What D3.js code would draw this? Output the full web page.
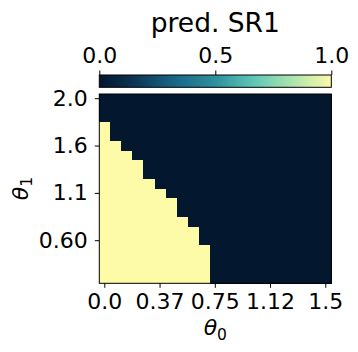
<!DOCTYPE html>
<html><head><meta charset="utf-8">
<script src="https://cdn.jsdelivr.net/npm/d3@7"></script>
<style>html,body{margin:0;padding:0;background:#fff;}svg{display:block;font-family:"DejaVu Sans",sans-serif;}</style>
</head><body>
<script>
// ---- data ----
const title = "pred. SR1";
const theta0 = d3.range(21).map(i => +(i * 0.075).toFixed(3)); // 0 .. 1.5
const theta1Rows = d3.range(20); // row index, top (2.0) to bottom
const xTickIdx = [0, 5, 10, 15, 20];
const xTickLabels = ["0.0", "0.37", "0.75", "1.12", "1.5"];
const yTickIdx = [0, 5, 10, 15];
const yTickLabels = ["2.0", "1.6", "1.1", "0.60"];
const cbTicks = [0, 0.5, 1];
const cbTickLabels = ["0.0", "0.5", "1.0"];
// prediction grid (rows top -> bottom, columns theta0 left -> right)
const pred = [
  [0,0,0,0,0,0,0,0,0,0,0,0,0,0,0,0,0,0,0,0,0],
  [0,0,0,0,0,0,0,0,0,0,0,0,0,0,0,0,0,0,0,0,0],
  [0,0,0,0,0,0,0,0,0,0,0,0,0,0,0,0,0,0,0,0,0],
  [1,0,0,0,0,0,0,0,0,0,0,0,0,0,0,0,0,0,0,0,0],
  [1,0,0,0,0,0,0,0,0,0,0,0,0,0,0,0,0,0,0,0,0],
  [1,1,0,0,0,0,0,0,0,0,0,0,0,0,0,0,0,0,0,0,0],
  [1,1,1,0,0,0,0,0,0,0,0,0,0,0,0,0,0,0,0,0,0],
  [1,1,1,1,0,0,0,0,0,0,0,0,0,0,0,0,0,0,0,0,0],
  [1,1,1,1,0,0,0,0,0,0,0,0,0,0,0,0,0,0,0,0,0],
  [1,1,1,1,1,0,0,0,0,0,0,0,0,0,0,0,0,0,0,0,0],
  [1,1,1,1,1,1,0,0,0,0,0,0,0,0,0,0,0,0,0,0,0],
  [1,1,1,1,1,1,1,0,0,0,0,0,0,0,0,0,0,0,0,0,0],
  [1,1,1,1,1,1,1,0,0,0,0,0,0,0,0,0,0,0,0,0,0],
  [1,1,1,1,1,1,1,1,0,0,0,0,0,0,0,0,0,0,0,0,0],
  [1,1,1,1,1,1,1,1,1,0,0,0,0,0,0,0,0,0,0,0,0],
  [1,1,1,1,1,1,1,1,1,0,0,0,0,0,0,0,0,0,0,0,0],
  [1,1,1,1,1,1,1,1,1,1,0,0,0,0,0,0,0,0,0,0,0],
  [1,1,1,1,1,1,1,1,1,1,0,0,0,0,0,0,0,0,0,0,0],
  [1,1,1,1,1,1,1,1,1,1,0,0,0,0,0,0,0,0,0,0,0],
  [1,1,1,1,1,1,1,1,1,1,0,0,0,0,0,0,0,0,0,0,0]
];
const cmapStops = [0, 0.15, 0.33, 0.5, 0.67, 0.85, 1];
const cmapColors = ["#03172f", "#0c3553", "#1a6789", "#2e909d", "#5fc9b8", "#b5e6ad", "#fdfaa8"];

// ---- drawing ----
const W = 358, H = 352;
const L = 99.3, R = 331.3, T = 94, B = 283.3;
const cbT = 75, cbB = 87.3;
const svg = d3.select("body").append("svg").attr("width", W).attr("height", H);
const color = d3.scaleLinear().domain(cmapStops).range(cmapColors).interpolate(d3.interpolateRgb);

const x = d3.scaleBand().domain(d3.range(theta0.length)).range([L, R]).padding(0);
const y = d3.scaleBand().domain(theta1Rows).range([T, B]).padding(0);

const cells = [];
pred.forEach((row, r) => row.forEach((v, c) => cells.push({r, c, v})));
svg.append("g").selectAll("rect").data(cells).join("rect")
  .attr("x", d => x(d.c)).attr("y", d => y(d.r))
  .attr("width", x.bandwidth() + 0.3).attr("height", y.bandwidth() + 0.3)
  .attr("fill", d => color(d.v)).attr("shape-rendering", "crispEdges");

svg.append("rect").attr("x", L).attr("y", T).attr("width", R - L).attr("height", B - T)
  .attr("fill", "none").attr("stroke", "#000").attr("stroke-width", 1);

const fs = 22;
// x axis
const xAxis = d3.axisBottom(x).tickValues(xTickIdx).tickFormat((d, i) => xTickLabels[i]).tickSize(4.5).tickPadding(5.5);
const gx = svg.append("g").attr("transform", `translate(0,${B})`).call(xAxis);
// y axis
const yAxis = d3.axisLeft(y).tickValues(yTickIdx).tickFormat((d, i) => yTickLabels[i]).tickSize(4.5).tickPadding(7);
const gy = svg.append("g").attr("transform", `translate(${L},0)`).call(yAxis);
[gx, gy].forEach(g => {
  g.select(".domain").remove();
  g.selectAll("line").attr("stroke", "#000").attr("stroke-width", 1);
  g.selectAll("text").attr("font-size", fs).attr("font-family", "DejaVu Sans").attr("fill", "#000");
});

// colorbar
const defs = svg.append("defs");
const grad = defs.append("linearGradient").attr("id", "cb").attr("x1", "0%").attr("x2", "100%");
d3.range(0, 1.0001, 0.05).forEach(t => grad.append("stop").attr("offset", (t * 100) + "%").attr("stop-color", color(t)));
const cx = d3.scaleLinear().domain([0, 1]).range([L, R]);
svg.append("rect").attr("x", L).attr("y", cbT).attr("width", R - L).attr("height", cbB - cbT)
  .attr("fill", "url(#cb)").attr("stroke", "#000").attr("stroke-width", 1);
const cbAxis = d3.axisTop(cx).tickValues(cbTicks).tickFormat((d, i) => cbTickLabels[i]).tickSize(4.5).tickPadding(7.5);
const gc = svg.append("g").attr("transform", `translate(0,${cbT})`).call(cbAxis);
gc.select(".domain").remove();
gc.selectAll("line").attr("stroke", "#000");
gc.selectAll("text").attr("font-size", fs).attr("font-family", "DejaVu Sans").attr("fill", "#000");

// title
svg.append("text").attr("x", (L + R) / 2).attr("y", 32).attr("text-anchor", "middle")
  .attr("font-size", 26.5).attr("fill", "#000").text(title);

// axis labels
const xl = svg.append("text").attr("x", (L + R) / 2).attr("y", 335).attr("text-anchor", "middle").attr("font-size", fs).attr("fill", "#000");
xl.append("tspan").attr("font-style", "italic").text("θ");
xl.append("tspan").attr("font-size", 15.5).attr("dy", 4.5).text("0");
const yl = svg.append("text").attr("transform", `translate(27.5,${(T + B) / 2}) rotate(-90)`).attr("text-anchor", "middle").attr("font-size", fs).attr("fill", "#000");
yl.append("tspan").attr("font-style", "italic").text("θ");
yl.append("tspan").attr("font-size", 15.5).attr("dy", 4.5).text("1");
</script>
</body></html>
